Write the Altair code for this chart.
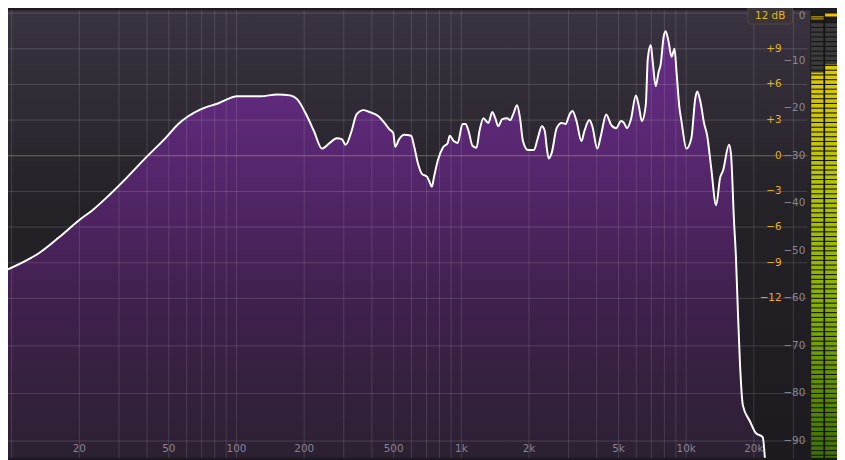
import altair as alt
import pandas as pd

# ---------------- data ----------------
freq_hz = [9.63, 10.9, 13.3, 16.3, 20.0, 22.8, 27.1, 32.2, 39.5, 48.3,
           55.1, 61.0, 69.6, 82.7, 101, 128, 152, 173, 186, 206,
           221, 240, 260, 279, 294, 306, 325, 342, 367, 390,
           428, 455, 478, 498, 508, 529, 557, 598, 616, 642,
           668, 703, 718, 740, 755, 786, 827, 870, 888, 925,
           963, 1013, 1044, 1077, 1121, 1168, 1204, 1254, 1319, 1373,
           1416, 1460, 1520, 1599, 1649, 1700, 1770, 1824, 1880, 1978,
           2102, 2189, 2281, 2351, 2399, 2448, 2523, 2655, 2794, 2909,
           3030, 3123, 3253, 3421, 3527, 3711, 3826, 4025, 4192, 4410,
           4639, 4881, 5134, 5292, 5456, 5683, 5978, 6163, 6353, 6616,
           6751, 6960, 7102, 7322, 7548, 7702, 7940, 8103, 8353, 8612,
           8878, 9060, 9340, 9531, 10027, 10548, 10985, 11210, 11556, 12034,
           12405, 12920, 13596, 14159, 14596, 15510, 15828, 16317, 16651, 16993,
           17341, 17877, 19192, 20393, 21897, 22574]
level_db = [-53.9, -52.7, -50.4, -47.1, -43.5, -41.5, -38.3, -34.8, -30.4, -26.3,
            -23.3, -21.7, -20.2, -19.0, -17.5, -17.5, -17.1, -17.3, -18.1, -21.7,
            -24.8, -28.5, -27.3, -26.3, -26.5, -27.7, -24.8, -21.3, -20.4, -20.8,
            -21.7, -23.1, -24.4, -25.2, -28.1, -26.5, -25.6, -25.8, -27.9, -31.7,
            -33.8, -34.4, -35.2, -36.5, -34.6, -31.0, -28.3, -27.3, -25.8, -26.9,
            -27.3, -23.3, -23.3, -24.8, -27.9, -28.3, -24.8, -22.1, -23.1, -20.8,
            -22.1, -23.8, -22.3, -22.1, -22.5, -21.3, -19.4, -22.1, -26.9, -28.8,
            -28.8, -26.3, -23.8, -24.8, -28.3, -30.6, -29.4, -24.2, -23.1, -23.3,
            -21.3, -20.6, -22.7, -26.9, -24.8, -22.5, -23.8, -28.5, -25.4, -21.3,
            -23.5, -24.2, -22.7, -23.1, -24.2, -22.3, -17.3, -19.6, -22.7, -19.2,
            -9.6, -6.7, -10.2, -15.4, -12.3, -10.8, -5.0, -3.8, -6.0, -9.2,
            -7.5, -12.3, -20.0, -22.7, -28.5, -26.3, -17.9, -16.5, -18.5, -23.3,
            -25.8, -32.5, -40.4, -34.6, -33.1, -27.7, -29.6, -43.5, -51.3, -62.9,
            -73.3, -82.5, -85.8, -88.3, -89.2, -96.0]

eq_gain_ticks = [9, 6, 3, 0, -3, -6, -9, -12]
eq_gain_labels = ["+9", "+6", "+3", "0", "\u22123", "\u22126", "\u22129", "\u221212"]
spec_ticks = [0, -10, -20, -30, -40, -50, -60, -70, -80, -90]
spec_labels = ["0", "\u221210", "\u221220", "\u221230", "\u221240", "\u221250",
               "\u221260", "\u221270", "\u221280", "\u221290"]
freq_ticks = [20, 50, 100, 200, 500, 1000, 2000, 5000, 10000, 20000]
freq_labels = ["20", "50", "100", "200", "500", "1k", "2k", "5k", "10k", "20k"]
grid_freqs = [10, 20, 30, 40, 50, 60, 70, 80, 90,
              100, 200, 300, 400, 500, 600, 700, 800, 900,
              1000, 2000, 3000, 4000, 5000, 6000, 7000, 8000, 9000,
              10000, 20000, 30000, 40000]
extra_grid_db = [0, -70, -80, -90]
meter_rms_db = [-12.5, -10.8]
meter_peak_db = [-1.0, -0.4]
range_label = "12 dB"

# ---------------- layout ----------------
W, H = 837, 452
F_MIN, F_MAX = 9.63, 46880
DB_MIN, DB_MAX = -93.54, 0.625
FONT = "DejaVu Sans"

xs = alt.Scale(type="log", domain=[F_MIN, F_MAX], nice=False)
ys = alt.Scale(domain=[DB_MIN, DB_MAX], nice=False, zero=False)


def eq_to_spec(g):
    return -30 + 2.5 * g


spec = pd.DataFrame({"freq": freq_hz, "db": level_db})
vgrid_df = pd.DataFrame({"f": grid_freqs})
hgrid_df = pd.DataFrame({"db": sorted(set([eq_to_spec(g) for g in eq_gain_ticks if g != 0] + extra_grid_db))})
zero_df = pd.DataFrame({"db": [eq_to_spec(0)]})
eq_df = pd.DataFrame({"db": [eq_to_spec(g) for g in eq_gain_ticks], "label": eq_gain_labels})
sp_df = pd.DataFrame({"db": spec_ticks, "label": spec_labels})
fl_df = pd.DataFrame({"f": freq_ticks, "label": freq_labels})
one = pd.DataFrame({"k": [0]})


def grad(stops):
    return alt.LinearGradient(
        gradient="linear", x1=0, x2=0, y1=0, y2=1,
        stops=[alt.GradientStop(color=c, offset=o) for o, c in stops])


bg = alt.Chart(one).mark_rect(
    color=grad([(0, "#3a3340"), (0.45, "#242127"), (1, "#1c1a1f")])
).encode(x=alt.value(0), x2=alt.value(W), y=alt.value(0), y2=alt.value(H))

area = alt.Chart(spec).mark_area(
    interpolate="monotone", clip=True,
    color=grad([(0, "#672d88"), (0.3, "#56266e"), (0.63, "#3f204c"), (1, "#2a2130")])
).encode(
    x=alt.X("freq:Q", scale=xs, axis=None),
    y=alt.Y("db:Q", scale=ys, axis=None),
    y2=alt.datum(DB_MIN),
)

vgrid = alt.Chart(vgrid_df).mark_rule(color="#ffffff", opacity=0.13, strokeWidth=1).encode(
    x=alt.X("f:Q", scale=xs, axis=None), y=alt.value(0), y2=alt.value(H))

hgrid = alt.Chart(hgrid_df).mark_rule(color="#ffffff", opacity=0.15, strokeWidth=1).encode(
    y=alt.Y("db:Q", scale=ys, axis=None), x=alt.value(0), x2=alt.value(807))

zero = alt.Chart(zero_df).mark_rule(color="#d8b866", opacity=0.45, strokeWidth=1).encode(
    y=alt.Y("db:Q", scale=ys, axis=None), x=alt.value(0), x2=alt.value(807))

line = alt.Chart(spec).mark_line(
    interpolate="monotone", clip=True, color="#ffffff", strokeWidth=2
).encode(x=alt.X("freq:Q", scale=xs, axis=None), y=alt.Y("db:Q", scale=ys, axis=None))

eq_text = alt.Chart(eq_df).mark_text(
    align="right", baseline="middle", color="#e5b424", font=FONT, fontSize=10.5
).encode(y=alt.Y("db:Q", scale=ys, axis=None), x=alt.value(781), text="label:N")

sp_text = alt.Chart(sp_df.iloc[1:]).mark_text(
    align="right", baseline="middle", color="#8c8792", font=FONT, fontSize=10.5
).encode(y=alt.Y("db:Q", scale=ys, axis=None), x=alt.value(805), text="label:N")

sp_text_top = alt.Chart(sp_df.iloc[:1]).mark_text(
    align="right", baseline="top", color="#8c8792", font=FONT, fontSize=10.5, dy=-2
).encode(y=alt.Y("db:Q", scale=ys, axis=None), x=alt.value(805), text="label:N")

fl_text = alt.Chart(fl_df).mark_text(
    align="center", baseline="middle", color="#8a8290", font=FONT, fontSize=10.5
).encode(x=alt.X("f:Q", scale=xs, axis=None), y=alt.value(443), text="label:N")

button = alt.Chart(one).mark_rect(
    color="#3b3538", stroke="#514a4c", strokeWidth=1, cornerRadius=3
).encode(x=alt.value(747), x2=alt.value(792), y=alt.value(-7), y2=alt.value(14))

button_text = alt.Chart(pd.DataFrame({"label": [range_label]})).mark_text(
    align="center", baseline="top", color="#e5b424", font=FONT, fontSize=10.5
).encode(x=alt.value(769.5), y=alt.value(0.5), text="label:N")

# ---------------- level meter ----------------
meter_cols = [(811, 823.5), (825, 837)]
meter_layers = [
    alt.Chart(one).mark_rect(color="#1d1d1d").encode(
        x=alt.value(810), x2=alt.value(W), y=alt.value(0), y2=alt.value(H))
]
lit = grad([(0, "#dcc800"), (0.3, "#b6c400"), (0.62, "#84ae00"), (1, "#3c7000")])
for (x0, x1), rms, pk in zip(meter_cols, meter_rms_db, meter_peak_db):
    d = pd.DataFrame({"rms": [rms], "peak": [pk]})
    meter_layers.append(
        alt.Chart(d).mark_rect(color="#3b3b3b").encode(
            x=alt.value(x0), x2=alt.value(x1),
            y=alt.Y("rms:Q", scale=ys, axis=None), y2=alt.value(12)))
    meter_layers.append(
        alt.Chart(d).mark_rect(color=lit).encode(
            x=alt.value(x0), x2=alt.value(x1),
            y=alt.Y("rms:Q", scale=ys, axis=None), y2=alt.value(H)))
    meter_layers.append(
        alt.Chart(d).mark_rule(color="#f2c200", strokeWidth=3).encode(
            x=alt.value(x0), x2=alt.value(x1),
            y=alt.Y("peak:Q", scale=ys, axis=None)))

seg_df = pd.DataFrame({"db": [float(-s) for s in range(1, 95)]})
segments = alt.Chart(seg_df).mark_rule(color="#151515", strokeWidth=1.1).encode(
    x=alt.value(811), x2=alt.value(W), y=alt.Y("db:Q", scale=ys, axis=None))
divider = alt.Chart(one).mark_rule(color="#151515", strokeWidth=1.5).encode(
    x=alt.value(824.2), y=alt.value(11), y2=alt.value(H))

chart = alt.layer(
    bg, area, vgrid, hgrid, zero, line, eq_text, sp_text, sp_text_top, fl_text,
    button, button_text, *meter_layers, segments, divider
).properties(
    width=W, height=H, padding=0,
    autosize=alt.AutoSizeParams(type="none"),
    background="#1c1a1f",
).configure_view(stroke=None)

chart.save("out.html", embed_options={"renderer": "svg", "actions": False})
